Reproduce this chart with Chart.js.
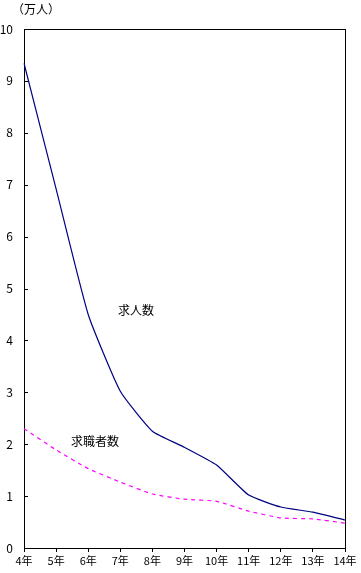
<!DOCTYPE html>
<html>
<head>
<meta charset="utf-8">
<script src="https://cdn.jsdelivr.net/npm/chart.js@4"></script>
<style>
  html, body { margin: 0; padding: 0; background: #fff; }
  #wrap { width: 361px; height: 573px; position: relative; }
</style>
</head>
<body>
<div id="wrap"><canvas id="lineChart"></canvas></div>
<script>
var years = ["4年", "5年", "6年", "7年", "8年", "9年", "10年", "11年", "12年", "13年", "14年"];
var jobOffers = [9.34, 6.92, 4.5, 3.02, 2.25, 1.94, 1.6, 1.02, 0.79, 0.69, 0.54];
var jobSeekers = [2.3, 1.89, 1.53, 1.27, 1.04, 0.94, 0.9, 0.71, 0.58, 0.56, 0.48];
var yTicks = [0, 1, 2, 3, 4, 5, 6, 7, 8, 9, 10];

var FONT = "'Noto Sans CJK JP', sans-serif";

// inward y ticks, unit label and series labels
var decorations = {
  id: "decorations",
  afterDatasetsDraw: function(chart) {
    var ctx = chart.ctx;
    var a = chart.chartArea;
    var x = chart.scales.x, y = chart.scales.y;
    ctx.save();
    ctx.strokeStyle = "#000";
    ctx.lineWidth = 1;
    ctx.beginPath();
    yTicks.forEach(function(v) {
      var py = Math.round(y.getPixelForValue(v)) + 0.5;
      ctx.moveTo(a.left, py);
      ctx.lineTo(a.left + 4, py);
    });
    ctx.stroke();
    ctx.fillStyle = "#000";
    ctx.font = "12px " + FONT;
    ctx.textBaseline = "middle";
    ctx.textAlign = "left";
    ctx.fillText("（万人）", 12, 9);
    ctx.textAlign = "center";
    ctx.fillText("求人数", x.getPixelForValue(3.49), y.getPixelForValue(4.57));
    ctx.fillText("求職者数", x.getPixelForValue(2.21), y.getPixelForValue(2.06));
    ctx.restore();
  }
};

function renderChart() {
  var ctx = document.getElementById("lineChart").getContext("2d");
  new Chart(ctx, {
    type: "line",
    data: {
      labels: years,
      datasets: [{
        data: jobOffers,
        borderColor: "#000080",
        borderWidth: 1.2,
        pointRadius: 0,
        tension: 0.15,
        fill: false,
      }, {
        data: jobSeekers,
        borderColor: "#ff00ff",
        borderWidth: 1.2,
        borderDash: [4, 4],
        pointRadius: 0,
        tension: 0.15,
        fill: false,
      }],
    },
    options: {
      responsive: true,
      maintainAspectRatio: false,
      animation: false,
      layout: { padding: { top: 0, right: 0, left: 0, bottom: 0 } },
      plugins: {
        legend: { display: false },
        tooltip: { enabled: false }
      },
      scales: {
        x: {
          offset: false,
          ticks: {
            autoSkip: false,
            maxRotation: 0,
            padding: 2,
            font: { family: FONT, size: 11 },
            color: "#000",
          },
          grid: { drawOnChartArea: false, drawTicks: true, tickLength: 4, color: "#000" },
          border: { display: true, color: "#000", width: 1 },
          afterFit: function(s) { s.height = 25; }
        },
        xTop: {
          position: "top",
          ticks: { display: false },
          grid: { display: false },
          border: { display: true, color: "#000", width: 1 },
          afterFit: function(s) { s.height = 29; }
        },
        y: {
          min: 0,
          max: 10,
          afterBuildTicks: function(s) { s.ticks = yTicks.map(function(v) { return { value: v }; }); },
          ticks: {
            padding: 3,
            font: { family: FONT, size: 12 },
            color: "#000",
          },
          grid: { display: false },
          border: { display: true, color: "#000", width: 1 },
          afterFit: function(s) { s.width = 24; }
        },
        yRight: {
          position: "right",
          min: 0,
          max: 10,
          ticks: { display: false },
          grid: { display: false },
          border: { display: true, color: "#000", width: 1 },
          afterFit: function(s) { s.width = 16; }
        }
      }
    },
    plugins: [decorations]
  });
}

document.addEventListener("DOMContentLoaded", renderChart);
</script>
</body>
</html>
